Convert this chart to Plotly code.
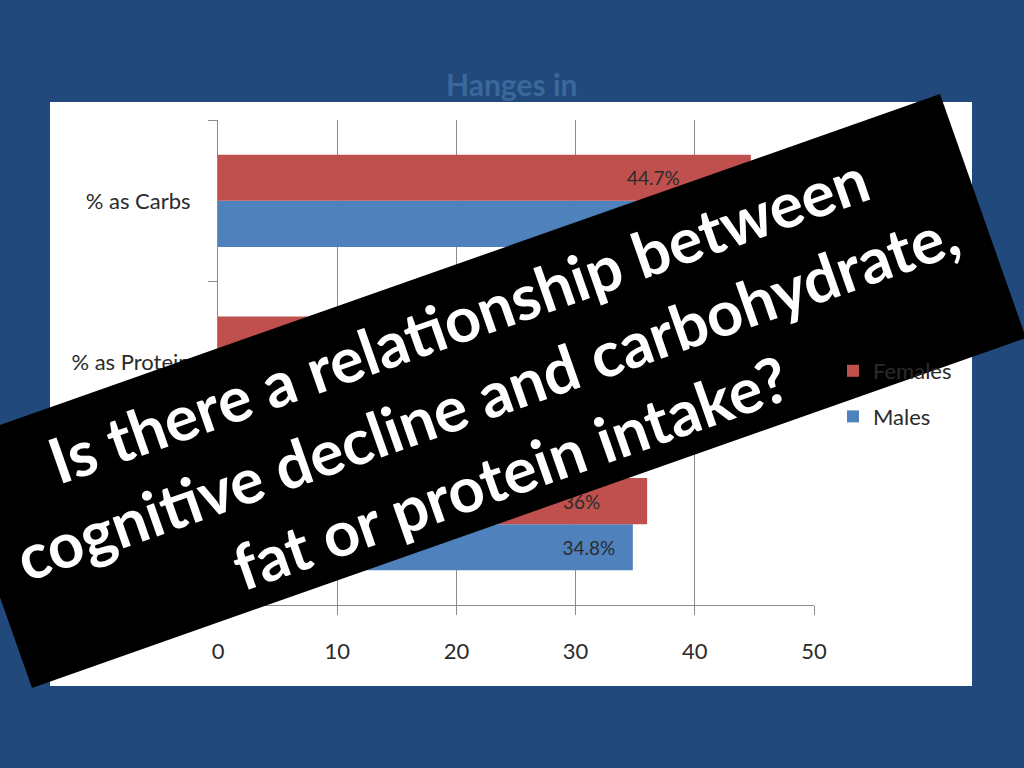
import plotly.graph_objects as go

W, H = 1024, 768

categories = ["% as Fat", "% as Protein", "% as Carbs"]
females = [36.0, 19.3, 44.7]
males = [34.8, 19.0, 46.2]
x_ticks = [0, 10, 20, 30, 40, 50]

# Excel placed the data labels a bit in from the bar ends
females_pad = [9, 0, 14]
males_pad = [3, 0, 0]

banner_lines = [
    "Is there a relationship between",
    "cognitive decline and carbohydrate,",
    "fat or protein intake?",
]

BG = "#21497C"
RED = "#C0504D"
BLUE = "#4F81BD"
GRID = "#8C8C8C"
TXT = "#2B2B2B"
FONT = "Lato, Open Sans, sans-serif"


def px(x):
    return x / W


def py(y):
    return 1 - y / H


def label(v, pad):
    return f"{v:g}%" + "\u00a0" * pad


fig = go.Figure()

# Excel puts series 1 at the bottom of each group
fig.add_trace(go.Bar(
    y=categories, x=males, orientation="h", name="Males",
    legendgroup="m", legendrank=2,
    marker=dict(color=BLUE, line=dict(width=0)),
    text=[label(v, p) for v, p in zip(males, males_pad)], textposition="inside",
    insidetextanchor="end", textangle=0,
    textfont=dict(family=FONT, size=19, color=TXT),
))
fig.add_trace(go.Bar(
    y=categories, x=females, orientation="h", name="Females",
    legendgroup="f", legendrank=1,
    marker=dict(color=RED, line=dict(width=0)),
    text=[label(v, p) for v, p in zip(females, females_pad)], textposition="inside",
    insidetextanchor="end", textangle=0,
    textfont=dict(family=FONT, size=19, color=TXT),
))

fig.update_layout(
    width=W, height=H, autosize=False,
    margin=dict(l=0, r=0, t=0, b=0, autoexpand=False),
    paper_bgcolor=BG,
    plot_bgcolor="rgba(0,0,0,0)",
    barmode="group",
    bargap=0.43,
    bargroupgap=0,
    font=dict(family=FONT, color=TXT),
    legend=dict(
        x=px(833), y=py(350), xanchor="left", yanchor="top",
        traceorder="grouped", font=dict(size=22, color=TXT),
        bgcolor="rgba(0,0,0,0)", itemwidth=30, tracegroupgap=14,
    ),
    xaxis=dict(
        domain=[px(218), px(814)], range=[0, 50],
        tickvals=x_ticks, showgrid=True, gridcolor=GRID, gridwidth=1,
        showline=True, linecolor=GRID, linewidth=1,
        ticks="outside", ticklen=9, tickcolor=GRID,
        tickfont=dict(size=22, color=TXT), ticklabelstandoff=18,
        zeroline=False, fixedrange=True, automargin=False,
    ),
    yaxis=dict(
        domain=[py(605), py(120)],
        showline=True, linecolor=GRID, linewidth=1,
        ticks="outside", ticklen=9, tickcolor=GRID, tickson="boundaries",
        tickfont=dict(size=22, color=TXT), ticklabelstandoff=22,
        showgrid=False, fixedrange=True, automargin=False,
    ),
)

# white chart panel
fig.add_shape(
    type="rect", xref="paper", yref="paper",
    x0=px(50), x1=px(972), y0=py(686), y1=py(102),
    fillcolor="white", line=dict(width=0), layer="below",
)

# faint slide title peeking above the panel
fig.add_annotation(
    text="<b>Hanges in</b>", xref="paper", yref="paper",
    x=px(511), y=py(104), xanchor="center", yanchor="bottom",
    showarrow=False, font=dict(family=FONT, size=30, color="#3B679A"),
)

# rotated black banner
corners = [(-54, 444), (940, 94), (1026, 338), (32, 688)]
path = "M " + " L ".join(f"{px(x):.5f},{py(y):.5f}" for x, y in corners) + " Z"
fig.add_shape(
    type="path", xref="paper", yref="paper", path=path,
    fillcolor="black", line=dict(width=0), layer="above",
)

angle = 19.4
centers = [(458, 318), (486, 394), (510, 471)]
for line, (cx, cy) in zip(banner_lines, centers):
    fig.add_annotation(
        text=f"<b>{line}</b>", xref="paper", yref="paper",
        x=px(cx), y=py(cy), xanchor="center", yanchor="middle",
        textangle=-angle, showarrow=False,
        font=dict(family=FONT, size=63, color="white"),
    )

fig.write_html(
    "out.html",
    config={"responsive": False, "displayModeBar": False},
    post_script="document.body.style.margin = '0px'; document.body.style.overflow = 'hidden';",
)
